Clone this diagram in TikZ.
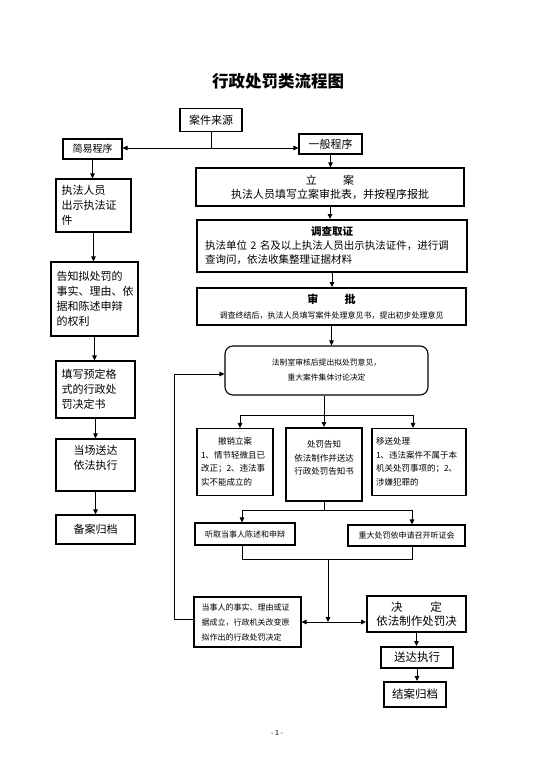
\documentclass[tikz,border=0pt]{standalone}
\usepackage{fontspec}
\setmainfont{Noto Sans CJK SC}
\usetikzlibrary{arrows.meta, positioning}
\newcommand\fsz[2]{\fontsize{#1}{#2}\selectfont}

\begin{document}
\begin{tikzpicture}[x=1pt, y=-1pt,
    box/.style={draw, line width=1.1pt, inner sep=0pt, align=center, font=\fsz{11}{15}},
    thickbox/.style={box, line width=1.9pt},
    smallbox/.style={box, font=\fsz{8.5}{13.5}},
    arrow/.style={-{Triangle[length=5pt, width=4.5pt]}, line width=0.9pt},
    link/.style={line width=0.9pt}
  ]
  \fill[white] (0,0) rectangle (553,783);
  \useasboundingbox (0,0) rectangle (553,783);

  \node[font=\bfseries\fsz{16.5}{20}] (title) at (278,81) {行政处罚类流程图};

  % sources
  \node[box, minimum width=62pt, minimum height=23pt] (source) at (211,120) {案件来源};
  \node[box, minimum width=59pt, minimum height=20pt, font=\fsz{10}{12}] (simple) at (92.5,149) {简易程序};
  \node[box, minimum width=63pt, minimum height=20pt] (general) at (330.5,144) {一般程序};

  % simple procedure (left column)
  \node[box, minimum width=75pt, minimum height=53pt, text width=64pt, align=left] (show) at (93.5,205.5) {执法人员\\出示执法证\\件};
  \node[box, minimum width=87pt, minimum height=74pt, text width=76pt, align=left] (inform) at (94.5,299) {告知拟处罚的\\事实、理由、依\\据和陈述申辩\\的权利};
  \node[box, minimum width=79pt, minimum height=57pt, text width=68pt, align=left] (fill) at (95.5,389.5) {填写预定格\\式的行政处\\罚决定书};
  \node[box, minimum width=79pt, minimum height=52pt] (deliver) at (95.5,465) {当场送达\\依法执行\\~};
  \node[box, minimum width=79pt, minimum height=29pt] (file) at (95.5,529.5) {备案归档};

  % general procedure (right column)
  \node[box, minimum width=268pt, minimum height=38pt, font=\fsz{11}{14}] (register) at (330,187) {立\hspace{2.4em}案\\执法人员填写立案审批表，并按程序报批};
  \node[thickbox, minimum width=270pt, minimum height=52pt, text width=254pt, align=left, font=\fsz{10.5}{14}] (investigate) at (332,246) {\makebox[\hsize]{\bfseries 调查取证}\\执法单位 2 名及以上执法人员出示执法证件，进行调\\查询问，依法收集整理证据材料};
  \node[thickbox, minimum width=269pt, minimum height=37pt] (approve) at (331.5,306.5) {{\bfseries 审\hspace{2.4em}批}\\{\fsz{8}{12}调查终结后，执法人员填写案件处理意见书，提出初步处理意见}};
  \node[box, rounded corners=8pt, minimum width=203pt, minimum height=49pt, font=\fsz{7.8}{15}] (review) at (326.5,370.5) {法制室审核后提出拟处罚意见，\\重大案件集体讨论决定};

  \node[smallbox, minimum width=76pt, minimum height=67pt, text width=68pt, align=left] (revoke) at (235,462) {\makebox[\hsize]{撤销立案}\\1、情节轻微且已\\改正；2、违法事\\实不能成立的};
  \node[thickbox, minimum width=76pt, minimum height=73pt, font=\fsz{8.5}{13.5}] (notify) at (324,464.5) {处罚告知\\依法制作并送达\\行政处罚告知书\\~};
  \node[smallbox, minimum width=94pt, minimum height=67pt, text width=86pt, align=left] (transfer) at (419,462) {移送处理\\1、违法案件不属于本\\机关处罚事项的；2、\\涉嫌犯罪的};

  \node[box, minimum width=100pt, minimum height=22pt, font=\fsz{8}{12}] (hear) at (245,534) {听取当事人陈述和申辩};
  \node[box, minimum width=117pt, minimum height=21pt, font=\fsz{8}{12}] (hearing) at (406.5,535.5) {重大处罚依申请召开听证会};

  \node[box, minimum width=107pt, minimum height=50pt, text width=92pt, align=left, font=\fsz{8}{15}] (change) at (247.5,622) {当事人的事实、理由或证\\据成立，行政机关改变原\\拟作出的行政处罚决定};
  \node[thickbox, minimum width=99pt, minimum height=36pt, font=\fsz{11.5}{14}] (decide) at (416.5,614) {决\hspace{2.4em}定\\依法制作处罚决};
  \node[thickbox, minimum width=72pt, minimum height=21pt, font=\fsz{11.5}{14}] (execute) at (417,657.5) {送达执行};
  \node[thickbox, minimum width=62pt, minimum height=25pt, font=\fsz{11.5}{14}] (close) at (415,694.5) {结案归档};

  \node[font=\fsz{7}{9}] (page) at (277,733) {- 1 -};

  % connectors
  \coordinate (split) at (211,148);
  \draw[link] (source) -- (split);
  \draw[arrow] (split) -- (split -| simple.east);
  \draw[arrow] (split) -- (split -| general.west);

  \foreach \a/\b in {simple/show, show/inform, inform/fill, fill/deliver, deliver/file,
                     general/register, register/investigate, investigate/approve, approve/review,
                     decide/execute, execute/close}
    \draw[arrow] (\a.south) -- (\a.south |- \b.north);

  % branch after review
  \coordinate (fork1) at (324,415);
  \coordinate (left1) at (240,415);
  \coordinate (right1) at (413,415);
  \draw[link] (fork1 |- review.south) -- (fork1);
  \draw[link] (left1) -- (right1);
  \foreach \c/\n in {left1/revoke, fork1/notify, right1/transfer}
    \draw[arrow] (\c) -- (\c |- \n.north);

  % branch after notice
  \coordinate (fork2) at (324,510);
  \coordinate (left2) at (242,510);
  \coordinate (right2) at (412,510);
  \draw[link] (notify.south) -- (fork2);
  \draw[link] (left2) -- (right2);
  \draw[arrow] (left2) -- (left2 |- hear.north);
  \draw[arrow] (right2) -- (right2 |- hearing.north);

  % merge and decision
  \coordinate (left3) at (242,559);
  \coordinate (right3) at (412,559);
  \coordinate (merge) at (328,559);
  \coordinate (meet) at (328,622);
  \draw[link] (left2 |- hear.south) -- (left3) -- (right3) -- (right2 |- hearing.south);
  \draw[arrow] (merge) -- (meet);
  \draw[arrow] (meet) -- (meet -| change.east);
  \draw[arrow] (meet) -- (meet -| decide.west);

  % loop back to review
  \coordinate (loopdown) at (174,619);
  \coordinate (loopup) at (174,374);
  \draw[arrow] (change.west |- loopdown) -- (loopdown) -- (loopup) -- (loopup -| review.west);
\end{tikzpicture}
\end{document}
